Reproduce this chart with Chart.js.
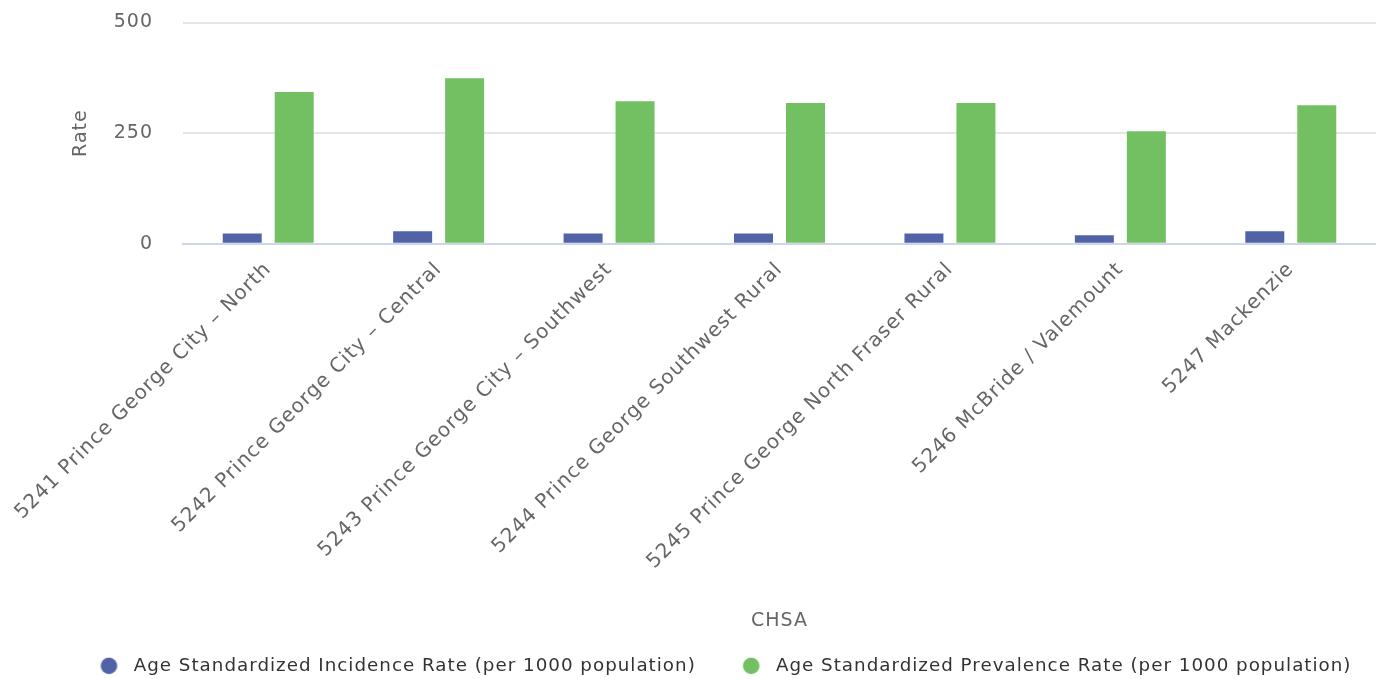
<!DOCTYPE html>
<html>
<head>
<meta charset="utf-8">
<script src="https://cdn.jsdelivr.net/npm/chart.js@4.4.1/dist/chart.umd.min.js"></script>
<style>
    html, body { margin: 0; padding: 0; background: #fff; }
    #wrap { width: 1376px; height: 679px; position: relative; }
</style>
</head>
<body>
<div id="wrap"><canvas id="rateChart"></canvas></div>
<script>
const categories = [
    "5241 Prince George City – North",
    "5242 Prince George City – Central",
    "5243 Prince George City – Southwest",
    "5244 Prince George Southwest Rural",
    "5245 Prince George North Fraser Rural",
    "5246 McBride / Valemount",
    "5247 Mackenzie"
];
const incidenceRate = [23, 28, 23, 23, 23, 19, 28];
const prevalenceRate = [343, 374, 322, 318, 318, 254, 313];
const yTicks = [0, 250, 500];

const font = "'DejaVu Sans', sans-serif";

// the original text is a bit wider spaced than DejaVu, open it up a little
const spacing = {
    id: "spacing",
    beforeUpdate: chart => { chart.ctx.letterSpacing = "1px"; },
    beforeDraw: chart => { chart.ctx.letterSpacing = "1px"; }
};

// legend in the original sits a bit right of centre
const legendShift = {
    id: "legendShift",
    afterLayout: chart => {
        chart.legend.left += 41;
        chart.legend.right += 41;
    }
};

// legend dot, drawn a little left of the box centre so the text gap matches
function legendDot(color) {
    const c = document.createElement("canvas");
    c.width = 36;
    c.height = 18;
    const g = c.getContext("2d");
    g.fillStyle = color;
    g.beginPath();
    g.arc(11.4, 9, 8.3, 0, Math.PI * 2);
    g.fill();
    return c;
}

new Chart(document.getElementById("rateChart"), {
    type: "bar",
    data: {
        labels: categories,
        datasets: [{
            label: "Age Standardized Incidence Rate (per 1000 population)",
            data: incidenceRate,
            backgroundColor: "#5262a7",
            pointStyle: legendDot("#5262a7"),
            categoryPercentage: 0.61,
            barPercentage: 0.75
        }, {
            label: "Age Standardized Prevalence Rate (per 1000 population)",
            data: prevalenceRate,
            backgroundColor: "#73c062",
            pointStyle: legendDot("#73c062"),
            categoryPercentage: 0.61,
            barPercentage: 0.75
        }]
    },
    plugins: [spacing, legendShift],
    options: {
        responsive: true,
        maintainAspectRatio: false,
        animation: false,
        layout: {
            padding: { top: 0, right: 0, bottom: -6, left: 0 }
        },
        plugins: {
            legend: {
                position: "bottom",
                labels: {
                    usePointStyle: true,
                    boxWidth: 18,
                    boxHeight: 12,
                    padding: 53,
                    color: "#333",
                    font: { family: font, size: 18.3 }
                }
            },
            tooltip: { enabled: false }
        },
        scales: {
            x: {
                afterFit: axis => {
                    axis.height = 360;
                    axis.paddingLeft = 0;
                    axis.paddingRight = 0;
                },
                grid: { display: false },
                border: { color: "#ccd6eb", width: 2 },
                ticks: {
                    maxRotation: 45,
                    minRotation: 45,
                    padding: 6,
                    color: "#666",
                    font: { family: font, size: 20 }
                },
                title: {
                    display: true,
                    text: "CHSA",
                    color: "#666",
                    font: { family: font, size: 19 },
                    padding: { top: 32, bottom: -28.7 }
                }
            },
            y: {
                min: 0,
                max: 500,
                afterBuildTicks: axis => {
                    axis.ticks = yTicks.map(v => ({ value: v }));
                },
                afterFit: axis => {
                    axis.width = 183;
                    axis.paddingTop = 22.5;
                    axis.paddingBottom = 0;
                },
                grid: { color: "#e6e6e6", lineWidth: 2, drawTicks: false },
                border: { display: false },
                ticks: {
                    color: "#666",
                    padding: 30,
                    font: { family: font, size: 19 }
                },
                title: {
                    display: true,
                    text: "Rate",
                    color: "#666",
                    font: { family: font, size: 19 },
                    padding: { top: 70, bottom: 20 }
                }
            }
        }
    }
});
</script>
</body>
</html>
